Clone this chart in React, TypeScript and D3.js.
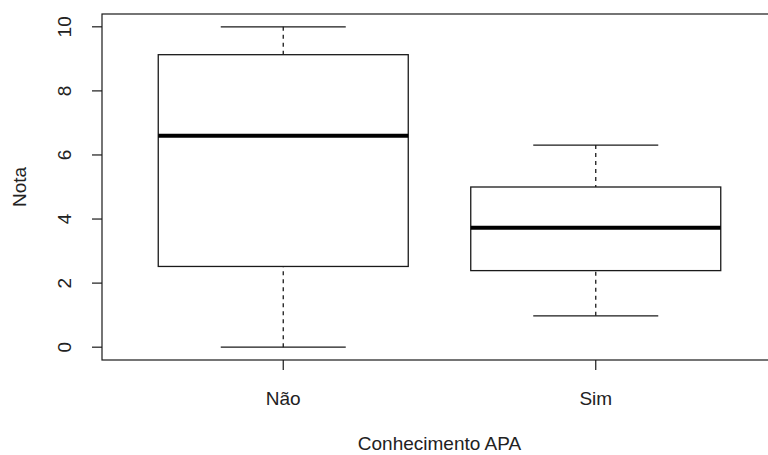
import React from "react";
import * as d3 from "d3";

const categories = ["Não", "Sim"];
const whiskerLow = [0, 0.98];
const q1 = [2.52, 2.39];
const medians = [6.6, 3.73];
const q3 = [9.13, 5.0];
const whiskerHigh = [10, 6.31];
const yTicks = [0, 2, 4, 6, 8, 10];
const xTitle = "Conhecimento APA";
const yTitle = "Nota";

const W = 768;
const H = 455;
const left = 102;
const top = 14;
const bottom = 360;
const FONT = "'Liberation Sans', Arial, sans-serif";
const FS = 19;

export default function App() {
  const y = d3.scaleLinear().domain([-0.4, 10.4]).range([bottom, top]);
  const x = d3.scaleLinear().domain([0.42, 2.58]).range([left, 777]);
  const stroke = "#1a1a1a";
  return (
    <svg
      width={W}
      height={H}
      style={{ position: "absolute", left: 0, top: 0, background: "#fff" }}
      fontFamily={FONT}
    >
      <rect x={0} y={0} width={W} height={H} fill="#fff" />
      <rect x={left} y={top} width={x(2.58) - left} height={bottom - top} fill="none" stroke={stroke} strokeWidth={1.2} />
      {categories.map((c, i) => {
        const cx = x(i + 1);
        const bw = x(0.4) - x(0);
        const cw = x(0.2) - x(0);
        return (
          <g key={c}>
            <line x1={cx} x2={cx} y1={y(whiskerHigh[i])} y2={y(q3[i])} stroke={stroke} strokeWidth={1.3} strokeDasharray="4,4" />
            <line x1={cx} x2={cx} y1={y(whiskerLow[i])} y2={y(q1[i])} stroke={stroke} strokeWidth={1.3} strokeDasharray="4,4" />
            <line x1={cx - cw} x2={cx + cw} y1={y(whiskerHigh[i])} y2={y(whiskerHigh[i])} stroke={stroke} strokeWidth={1.3} />
            <line x1={cx - cw} x2={cx + cw} y1={y(whiskerLow[i])} y2={y(whiskerLow[i])} stroke={stroke} strokeWidth={1.3} />
            <rect x={cx - bw} y={y(q3[i])} width={2 * bw} height={y(q1[i]) - y(q3[i])} fill="#fff" stroke={stroke} strokeWidth={1.3} />
            <line x1={cx - bw} x2={cx + bw} y1={y(medians[i])} y2={y(medians[i])} stroke="#000" strokeWidth={4} />
          </g>
        );
      })}
      {yTicks.map((t) => (
        <g key={t}>
          <line x1={left - 10} x2={left} y1={y(t)} y2={y(t)} stroke={stroke} strokeWidth={1.2} />
          <text
            transform={`translate(${71},${y(t)}) rotate(-90)`}
            textAnchor="middle"
            fontSize={FS}
            fill="#222"
          >
            {t}
          </text>
        </g>
      ))}
      {categories.map((c, i) => (
        <g key={c}>
          <line x1={x(i + 1)} x2={x(i + 1)} y1={bottom} y2={bottom + 10} stroke={stroke} strokeWidth={1.2} />
          <text x={x(i + 1)} y={405} textAnchor="middle" fontSize={FS} fill="#222">
            {c}
          </text>
        </g>
      ))}
      <text x={x(1.5)} y={450} textAnchor="middle" fontSize={FS} fill="#222">
        {xTitle}
      </text>
      <text transform={`translate(26,${(top + bottom) / 2}) rotate(-90)`} textAnchor="middle" fontSize={FS} fill="#222">
        {yTitle}
      </text>
    </svg>
  );
}
